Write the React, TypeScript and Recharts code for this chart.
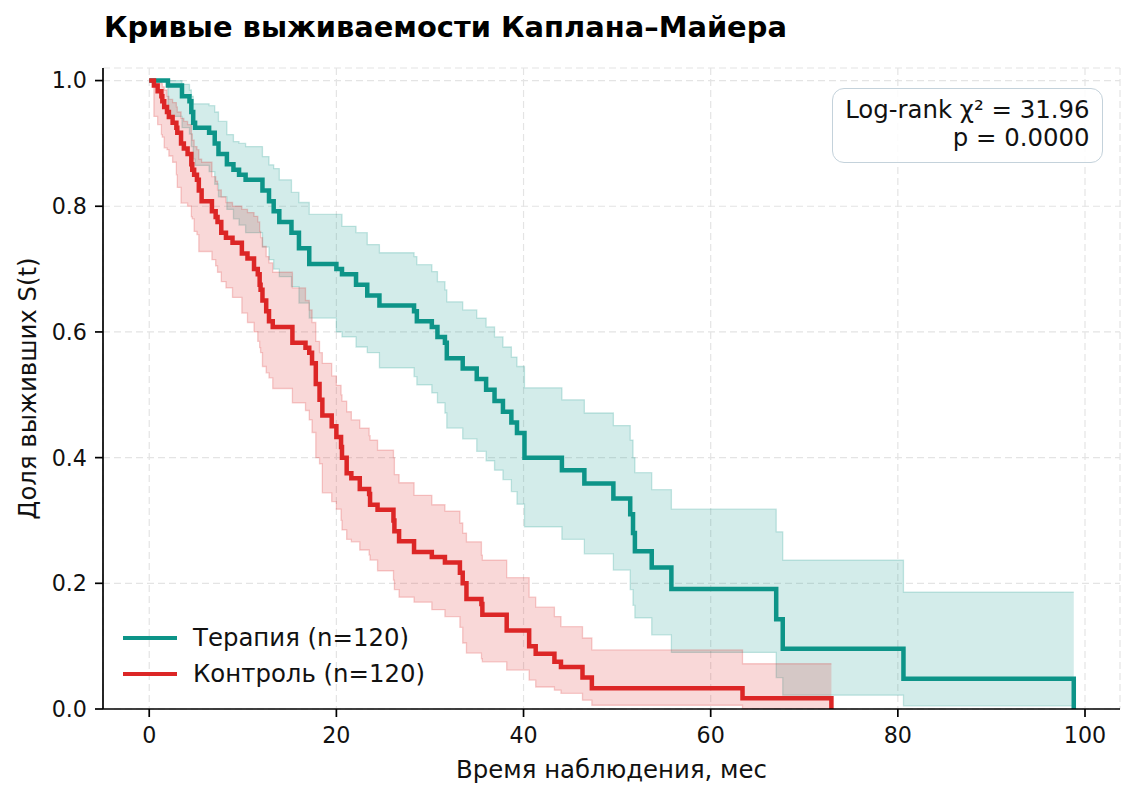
import React from 'react';
import { ComposedChart, Line, Area, XAxis, YAxis, CartesianGrid, Label } from 'recharts';

const TEAL = '#0d9488';
const RED = '#dc2626';
const FONT = '"DejaVu Sans", sans-serif';

// Терапия (n=120)
const therapyTime = [0, 2.0, 3.5, 4.3, 4.5, 4.7, 4.9, 6.4, 7.0, 7.4, 8.3, 9.0, 9.6, 10.3, 12.1, 12.8, 13.3, 13.9, 15.2, 16.0, 17.1, 20.0, 20.6, 22.1, 23.3, 24.6, 28.3, 28.6, 30.2, 30.8, 31.6, 31.8, 33.5, 35.0, 36.0, 36.9, 37.8, 38.7, 39.3, 40.1, 44.1, 46.5, 49.6, 51.4, 51.7, 51.9, 53.7, 55.8, 67.0, 67.7, 80.6, 98.8];
const therapySurv = [1.0, 0.992, 0.975, 0.967, 0.95, 0.933, 0.925, 0.917, 0.9, 0.883, 0.867, 0.858, 0.85, 0.842, 0.825, 0.808, 0.792, 0.775, 0.758, 0.733, 0.708, 0.7, 0.692, 0.675, 0.658, 0.642, 0.633, 0.617, 0.608, 0.592, 0.583, 0.558, 0.542, 0.525, 0.508, 0.49, 0.473, 0.456, 0.439, 0.4, 0.38, 0.359, 0.335, 0.31, 0.28, 0.251, 0.225, 0.191, 0.143, 0.096, 0.048, 0];
const therapyLow = [1.0, 0.943, 0.925, 0.915, 0.895, 0.875, 0.865, 0.855, 0.835, 0.815, 0.795, 0.78, 0.77, 0.758, 0.735, 0.715, 0.7, 0.688, 0.672, 0.646, 0.622, 0.6, 0.592, 0.576, 0.567, 0.543, 0.529, 0.516, 0.503, 0.487, 0.471, 0.447, 0.43, 0.41, 0.395, 0.38, 0.365, 0.346, 0.326, 0.29, 0.27, 0.247, 0.221, 0.19, 0.165, 0.145, 0.118, 0.09, 0.05, 0.022, 0.005, 0.005];
const therapyHigh = [1.0, 1.0, 0.994, 0.985, 0.975, 0.963, 0.963, 0.96, 0.95, 0.935, 0.914, 0.903, 0.9, 0.895, 0.879, 0.866, 0.86, 0.842, 0.822, 0.806, 0.787, 0.787, 0.768, 0.758, 0.739, 0.726, 0.72, 0.707, 0.696, 0.68, 0.667, 0.648, 0.635, 0.622, 0.608, 0.592, 0.576, 0.56, 0.545, 0.511, 0.492, 0.471, 0.451, 0.428, 0.4, 0.376, 0.349, 0.318, 0.282, 0.237, 0.186, 0.186];

// Контроль (n=120)
const controlTime = [0, 0.5, 0.9, 1.3, 1.4, 1.6, 1.9, 2.1, 2.5, 2.9, 3.0, 3.4, 3.7, 4.1, 4.5, 4.6, 4.8, 5.1, 5.3, 5.6, 6.7, 7.1, 7.3, 7.7, 8.2, 8.9, 9.9, 10.5, 11.2, 11.6, 11.8, 11.9, 12.1, 12.5, 12.8, 13.2, 15.3, 16.7, 17.1, 17.4, 17.8, 18.2, 18.5, 19.5, 20.0, 20.5, 20.6, 21.1, 21.6, 22.5, 23.5, 23.6, 24.4, 26.1, 26.2, 26.7, 28.3, 30.2, 31.6, 33.2, 33.5, 33.9, 35.5, 35.6, 38.2, 40.6, 41.3, 43.3, 44.0, 46.3, 47.3, 63.4, 72.9];
const controlSurv = [1.0, 0.992, 0.983, 0.975, 0.967, 0.958, 0.95, 0.942, 0.933, 0.925, 0.917, 0.9, 0.892, 0.883, 0.867, 0.858, 0.85, 0.842, 0.825, 0.808, 0.792, 0.783, 0.775, 0.758, 0.75, 0.742, 0.725, 0.717, 0.7, 0.692, 0.675, 0.667, 0.65, 0.633, 0.617, 0.608, 0.583, 0.575, 0.567, 0.55, 0.517, 0.492, 0.467, 0.45, 0.433, 0.417, 0.4, 0.375, 0.367, 0.35, 0.342, 0.325, 0.317, 0.3, 0.283, 0.267, 0.25, 0.242, 0.233, 0.217, 0.2, 0.175, 0.167, 0.15, 0.125, 0.1, 0.088, 0.075, 0.067, 0.05, 0.033, 0.017, 0];
const controlLow = [1.0, 0.943, 0.93, 0.914, 0.91, 0.893, 0.89, 0.88, 0.87, 0.85, 0.83, 0.805, 0.805, 0.8, 0.783, 0.78, 0.76, 0.755, 0.728, 0.728, 0.715, 0.705, 0.695, 0.68, 0.67, 0.655, 0.63, 0.615, 0.6, 0.585, 0.575, 0.567, 0.545, 0.535, 0.527, 0.51, 0.487, 0.475, 0.46, 0.44, 0.4, 0.39, 0.344, 0.33, 0.318, 0.3, 0.285, 0.27, 0.266, 0.253, 0.245, 0.237, 0.22, 0.205, 0.19, 0.178, 0.17, 0.158, 0.147, 0.13, 0.105, 0.089, 0.08, 0.075, 0.062, 0.046, 0.035, 0.03, 0.025, 0.014, 0.006, 0, 0];
const controlHigh = [1.0, 1.0, 0.998, 0.995, 0.99, 0.985, 0.975, 0.97, 0.965, 0.958, 0.95, 0.94, 0.935, 0.93, 0.915, 0.905, 0.895, 0.89, 0.875, 0.87, 0.847, 0.84, 0.826, 0.815, 0.806, 0.8, 0.795, 0.79, 0.784, 0.775, 0.76, 0.75, 0.736, 0.72, 0.71, 0.695, 0.67, 0.65, 0.635, 0.615, 0.585, 0.567, 0.55, 0.53, 0.515, 0.5, 0.49, 0.473, 0.46, 0.447, 0.435, 0.428, 0.412, 0.4, 0.373, 0.36, 0.34, 0.325, 0.315, 0.296, 0.28, 0.266, 0.245, 0.237, 0.209, 0.178, 0.162, 0.147, 0.131, 0.113, 0.094, 0.072, 0.072];

const xTicks = [0, 20, 40, 60, 80, 100];
const yTicks = [0, 0.2, 0.4, 0.6, 0.8, 1.0];

const legendItems = [
  { name: 'Терапия (n=120)', color: TEAL },
  { name: 'Контроль (n=120)', color: RED },
];

const build = (t: number[], s: number[], lo: number[], hi: number[]) =>
  t.map((v, i) => ({ t: v, s: s[i], band: [lo[i], hi[i]] }));

const therapy = build(therapyTime, therapySurv, therapyLow, therapyHigh);
const control = build(controlTime, controlSurv, controlLow, controlHigh);

const tickStyle = { fill: '#111', fontSize: 22.2, fontFamily: FONT };
const LABEL_SIZE = 24.4;

export default function App() {
  return (
    <div style={{ position: 'absolute', left: 0, top: 0, width: 1136, height: 799, background: '#fff', fontFamily: FONT }}>
      <div style={{ position: 'absolute', left: 104, top: 10, fontSize: 28.9, lineHeight: 'normal', fontWeight: 'bold', color: '#000', whiteSpace: 'nowrap' }}>
        Кривые выживаемости Каплана–Майера
      </div>
      <ComposedChart width={1136} height={799} margin={{ top: 68, right: 16, bottom: 0, left: 0 }}>
        <CartesianGrid stroke="#e4e4e4" strokeDasharray="7 4" strokeWidth={1.2} />
        <XAxis
          type="number"
          dataKey="t"
          domain={[-4.94, 103.74]}
          ticks={xTicks}
          allowDataOverflow
          height={90}
          tick={tickStyle}
          tickSize={8}
          tickMargin={10}
          axisLine={{ stroke: '#000', strokeWidth: 1.7 }}
          tickLine={{ stroke: '#000', strokeWidth: 1.7 }}
        >
          <Label
            content={({ viewBox }: any) => (
              <text x={viewBox.x + viewBox.width / 2} y={viewBox.y + 69} textAnchor="middle" fontSize={LABEL_SIZE} fontFamily={FONT} fill="#111">
                Время наблюдения, мес
              </text>
            )}
          />
        </XAxis>
        <YAxis
          type="number"
          domain={[0, 1.02]}
          ticks={yTicks}
          allowDataOverflow
          width={103}
          tick={tickStyle}
          tickSize={8}
          tickMargin={8}
          tickFormatter={(v: number) => v.toFixed(1)}
          axisLine={{ stroke: '#000', strokeWidth: 1.7 }}
          tickLine={{ stroke: '#000', strokeWidth: 1.7 }}
        >
          <Label
            content={({ viewBox }: any) => {
              const cy = viewBox.y + viewBox.height / 2;
              return (
                <text x={36} y={cy} transform={`rotate(-90 36 ${cy})`} textAnchor="middle" fontSize={LABEL_SIZE} fontFamily={FONT} fill="#111">
                  Доля выживших S(t)
                </text>
              );
            }}
          />
        </YAxis>
        <Area
          data={therapy}
          dataKey="band"
          type="stepAfter"
          fill={TEAL}
          fillOpacity={0.18}
          stroke={TEAL}
          strokeOpacity={0.22}
          strokeWidth={1.3}
          isAnimationActive={false}
          legendType="none"
        />
        <Line
          data={therapy}
          dataKey="s"
          type="stepAfter"
          stroke={TEAL}
          strokeWidth={4.5}
          dot={false}
          activeDot={false}
          isAnimationActive={false}
        />
        <Area
          data={control}
          dataKey="band"
          type="stepAfter"
          fill={RED}
          fillOpacity={0.18}
          stroke={RED}
          strokeOpacity={0.22}
          strokeWidth={1.3}
          isAnimationActive={false}
          legendType="none"
        />
        <Line
          data={control}
          dataKey="s"
          type="stepAfter"
          stroke={RED}
          strokeWidth={4.5}
          dot={false}
          activeDot={false}
          isAnimationActive={false}
        />
      </ComposedChart>
      <div style={{ position: 'absolute', left: 123, top: 620 }}>
        {legendItems.map((item) => (
          <div key={item.name} style={{ display: 'flex', alignItems: 'center', height: 36 }}>
            <div style={{ width: 54, height: 4.5, background: item.color }} />
            <span style={{ marginLeft: 16, fontSize: LABEL_SIZE, lineHeight: '28px', color: '#111', whiteSpace: 'nowrap' }}>{item.name}</span>
          </div>
        ))}
      </div>
      <div
        style={{
          position: 'absolute',
          left: 832,
          top: 88,
          width: 271,
          height: 75,
          boxSizing: 'border-box',
          border: '1.5px solid #c4d2db',
          borderRadius: 12,
          background: 'rgba(255,255,255,0.85)',
          padding: '6.9px 12.5px 0 0',
          textAlign: 'right',
          fontSize: LABEL_SIZE,
          lineHeight: '28.4px',
          color: '#111',
          whiteSpace: 'nowrap',
        }}
      >
        <div>Log-rank χ² = 31.96</div>
        <div>p = 0.0000</div>
      </div>
    </div>
  );
}
